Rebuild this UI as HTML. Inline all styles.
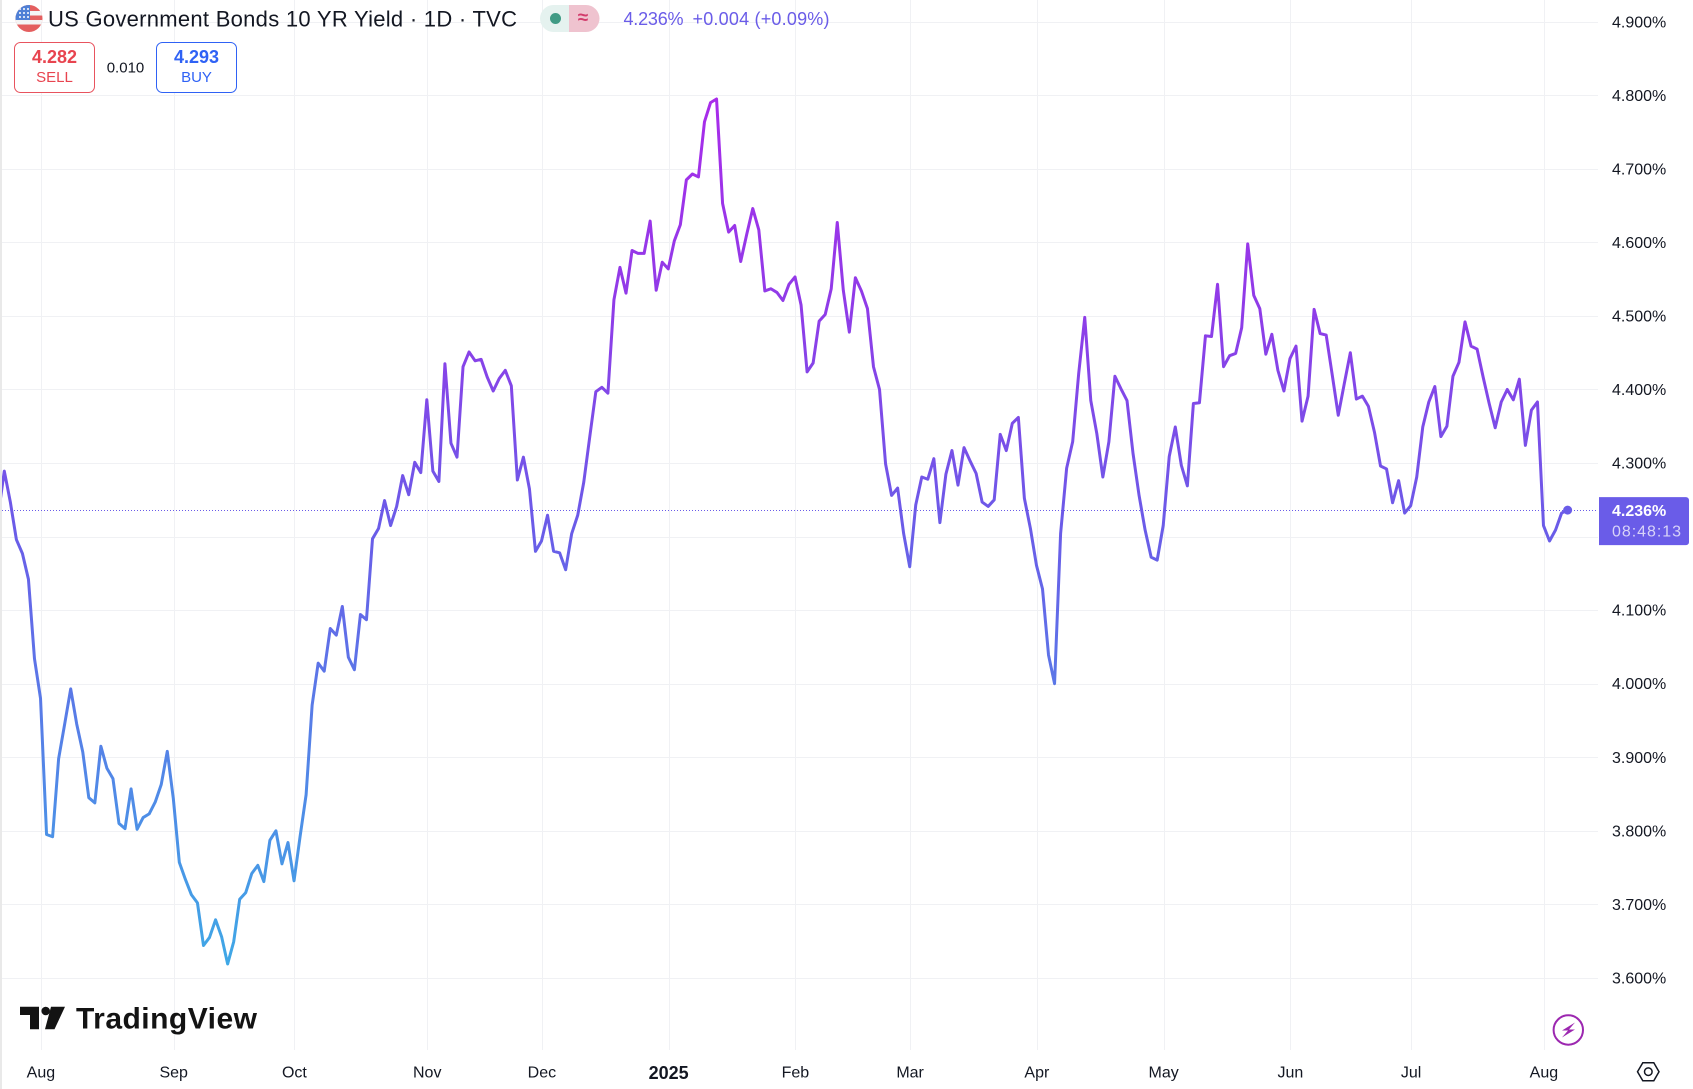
<!DOCTYPE html>
<html lang="en">
<head>
<meta charset="utf-8">
<title>US Government Bonds 10 YR Yield</title>
<style>
html,body{margin:0;padding:0;background:#fff;width:1693px;height:1089px;overflow:hidden}
svg{display:block;font-family:"Liberation Sans",sans-serif}
text{dominant-baseline:central}
</style>
</head>
<body>
<svg id="chart" width="1693" height="1089" viewBox="0 0 1693 1089" xmlns="http://www.w3.org/2000/svg">
  <defs>
    <linearGradient id="lineGrad" gradientUnits="userSpaceOnUse" x1="0" y1="95" x2="0" y2="965">
      <stop offset="0" stop-color="#a92bea"/>
      <stop offset="0.25" stop-color="#8f3ce8"/>
      <stop offset="0.5" stop-color="#6a5ce8"/>
      <stop offset="1" stop-color="#3fa8e6"/>
    </linearGradient>
    <clipPath id="plotClip"><rect x="2" y="0" width="1596" height="1050"/></clipPath>
    <clipPath id="flagClip"><circle cx="29" cy="18.5" r="13.5"/></clipPath>
  </defs>
  <rect width="1693" height="1089" fill="#ffffff"/>
  <rect x="0" y="0" width="2" height="1089" fill="#e9e9e9"/>
  <g id="grid"></g>
  <line id="lastLine" x1="2" x2="1597" stroke="#6a5ce8" stroke-width="1" stroke-dasharray="1 2"/>
  <polyline id="series" fill="none" stroke="url(#lineGrad)" stroke-width="3" stroke-linejoin="round" stroke-linecap="round" clip-path="url(#plotClip)"/>
  <circle id="lastDot" r="4.5" fill="#6a5ce8"/>
  <g id="yAxis" font-size="16" fill="#131722"></g>
  <g id="xAxis" font-size="16" fill="#131722" text-anchor="middle"></g>

  <g id="lastLabel">
    <path id="lastBox" fill="#6a5ce8"/>
    <text id="lastText" x="1612" font-size="16" font-weight="bold" fill="#ffffff"></text>
    <text id="countText" x="1612" font-size="16" fill="#d8d3f8" textLength="69">08:48:13</text>
  </g>

  <g clip-path="url(#flagClip)">
    <rect x="15" y="5" width="28" height="27" fill="#e45f5f"/>
    <rect x="15" y="11" width="28" height="4.5" fill="#f4f4f4"/>
    <rect x="15" y="20" width="28" height="4.5" fill="#f4f4f4"/>
    <rect x="15" y="5" width="15" height="15" fill="#4f80d6"/>
    <g fill="#ffffff">
      <circle cx="20" cy="9" r="1"/><circle cx="24" cy="9" r="1"/><circle cx="28" cy="9" r="1"/>
      <circle cx="20" cy="13" r="1"/><circle cx="24" cy="13" r="1"/><circle cx="28" cy="13" r="1"/>
      <circle cx="20" cy="17" r="1"/><circle cx="24" cy="17" r="1"/><circle cx="28" cy="17" r="1"/>
    </g>
  </g>
  <text x="48" y="19" font-size="22" fill="#131722" textLength="469">US Government Bonds 10 YR Yield · 1D · TVC</text>

  <g>
    <path d="M569 5H553.5a13.5 13.5 0 0 0 0 27H569Z" fill="#e5f2ef"/>
    <path d="M569 5H586a13.5 13.5 0 0 1 0 27H569Z" fill="#efc3cf"/>
    <circle cx="555.5" cy="18.5" r="5.5" fill="#409b85"/>
    <text x="583" y="18" font-size="19" font-weight="bold" fill="#d23c6c" text-anchor="middle">≈</text>
  </g>

  <text x="623.5" y="19" font-size="18" fill="#6a5ce8" textLength="60">4.236%</text>
  <text x="692.5" y="19" font-size="18" fill="#6a5ce8" textLength="137">+0.004 (+0.09%)</text>

  <g>
    <rect x="14.5" y="42.5" width="80" height="50" rx="6" fill="#ffffff" stroke="#e8535e" stroke-width="1"/>
    <text x="54.5" y="57" font-size="18" font-weight="bold" fill="#e8444f" text-anchor="middle">4.282</text>
    <text x="54.5" y="77.5" font-size="15" fill="#e8444f" text-anchor="middle">SELL</text>
  </g>
  <text x="125.5" y="68" font-size="15" fill="#131722" text-anchor="middle">0.010</text>
  <g>
    <rect x="156.5" y="42.5" width="80" height="50" rx="6" fill="#ffffff" stroke="#2f62f5" stroke-width="1"/>
    <text x="196.5" y="57" font-size="18" font-weight="bold" fill="#2f62f5" text-anchor="middle">4.293</text>
    <text x="196.5" y="77.5" font-size="15" fill="#2f62f5" text-anchor="middle">BUY</text>
  </g>

  <g fill="#131313">
    <path d="M20 1006.7H39V1029.3H30V1015H20Z"/>
    <circle cx="45.7" cy="1011" r="4.3"/>
    <path d="M51 1006.7H65L54.5 1029.3H45Z"/>
    <text x="76" y="1019" font-size="30" font-weight="bold" textLength="181">TradingView</text>
  </g>

  <g>
    <circle cx="1568.3" cy="1030" r="14.7" fill="#ffffff" stroke="#9c27b0" stroke-width="2"/>
    <path d="M1575 1022.5L1562 1030.5H1568L1562 1037.5L1575 1029.5H1569Z" fill="#9c27b0"/>
  </g>
  <g fill="none" stroke="#131722" stroke-width="1.5">
    <path d="M1637.5 1071.7L1642.8 1062.7H1653.8L1659 1071.7L1653.8 1080.7H1642.8Z"/>
    <circle cx="1648.3" cy="1071.7" r="3.8"/>
  </g>

  <script>
    // Reference values. The first point sits just off the left edge.
    var yieldValues = [
      4.230,4.289,4.247,4.196,4.177,4.142,4.034,3.980,3.795,3.792,
      3.898,3.945,3.993,3.945,3.907,3.845,3.838,3.915,3.885,3.871,
      3.810,3.803,3.857,3.802,3.818,3.823,3.839,3.863,3.908,3.844,
      3.757,3.734,3.713,3.702,3.644,3.655,3.679,3.656,3.619,3.649,
      3.707,3.716,3.742,3.753,3.731,3.787,3.800,3.755,3.784,3.732,
      3.792,3.849,3.971,4.028,4.017,4.075,4.066,4.105,4.036,4.019,
      4.094,4.087,4.197,4.211,4.249,4.215,4.241,4.283,4.257,4.301,
      4.287,4.386,4.289,4.275,4.435,4.327,4.308,4.431,4.451,4.439,
      4.441,4.417,4.398,4.415,4.426,4.405,4.277,4.308,4.265,4.180,
      4.194,4.229,4.180,4.178,4.155,4.204,4.229,4.274,4.336,4.397,
      4.403,4.395,4.522,4.566,4.531,4.589,4.585,4.585,4.629,4.535,
      4.573,4.564,4.602,4.624,4.685,4.693,4.689,4.764,4.790,4.795,
      4.653,4.614,4.623,4.574,4.611,4.646,4.617,4.534,4.537,4.532,
      4.521,4.543,4.553,4.515,4.424,4.436,4.493,4.502,4.537,4.627,
      4.535,4.478,4.552,4.534,4.510,4.431,4.400,4.299,4.256,4.266,
      4.204,4.159,4.243,4.281,4.278,4.306,4.219,4.285,4.317,4.270,
      4.321,4.303,4.286,4.247,4.241,4.250,4.339,4.317,4.354,4.362,
      4.252,4.211,4.161,4.129,4.039,4.000,4.204,4.293,4.329,4.422,
      4.498,4.385,4.340,4.281,4.329,4.418,4.401,4.385,4.313,4.256,
      4.209,4.172,4.168,4.215,4.309,4.349,4.297,4.269,4.381,4.382,
      4.473,4.472,4.543,4.431,4.446,4.449,4.484,4.598,4.528,4.510,
      4.448,4.475,4.426,4.398,4.442,4.459,4.357,4.391,4.509,4.476,
      4.474,4.420,4.365,4.408,4.450,4.387,4.391,4.377,4.342,4.296,
      4.292,4.246,4.276,4.232,4.242,4.281,4.349,4.383,4.404,4.336,
      4.350,4.418,4.437,4.492,4.459,4.455,4.417,4.381,4.348,4.383,
      4.400,4.386,4.414,4.324,4.372,4.383,4.215,4.194,4.209,4.232,
      4.236
    ];
    var priceTicks = [4.9,4.8,4.7,4.6,4.5,4.4,4.3,4.2,4.1,4.0,3.9,3.8,3.7,3.6];
    var monthLabels = ['Aug','Sep','Oct','Nov','Dec','2025','Feb','Mar','Apr','May','Jun','Jul','Aug'];
    var monthBars = [7,29,49,71,90,111,132,151,172,193,214,234,256];
    var boldMonths = ['2025'];

    var SVG_NS = 'http://www.w3.org/2000/svg';
    function xScale(bar){ return -1.736 + 6.036 * bar; }
    function yScale(v){ return 95.3 + (4.8 - v) * 735.5; }

    var grid = document.getElementById('grid');
    var yAxis = document.getElementById('yAxis');
    var xAxis = document.getElementById('xAxis');

    priceTicks.forEach(function(tick){
      var y = Math.round(yScale(tick)) + 0.5;
      var line = document.createElementNS(SVG_NS, 'line');
      
      
      line.setAttribute('x1', 2);
      line.setAttribute('x2', 1598);
      line.setAttribute('y1', y);
      line.setAttribute('y2', y);
      line.setAttribute('stroke', '#f0f1f4');
      line.setAttribute('stroke-width', 1);
      grid.appendChild(line);
      var label = document.createElementNS(SVG_NS, 'text');
      
      
      label.setAttribute('x', 1612);
      label.setAttribute('y', yScale(tick) + 1);
      label.textContent = tick.toFixed(3) + '%';
      yAxis.appendChild(label);
    });

    monthBars.forEach(function(bar, i){
      var x = Math.round(xScale(bar) + 0.4) + 0.5;
      var line = document.createElementNS(SVG_NS, 'line');
      
      
      line.setAttribute('x1', x);
      line.setAttribute('x2', x);
      line.setAttribute('y1', 0);
      line.setAttribute('y2', 1050);
      line.setAttribute('stroke', '#f0f1f4');
      line.setAttribute('stroke-width', 1);
      grid.appendChild(line);
      var label = document.createElementNS(SVG_NS, 'text');
      
      
      label.setAttribute('x', xScale(bar) + 0.4);
      label.setAttribute('y', 1073);
      if (boldMonths.indexOf(monthLabels[i]) >= 0) {
        label.setAttribute('font-weight', 'bold');
        label.setAttribute('font-size', '18');
      }
      label.textContent = monthLabels[i];
      xAxis.appendChild(label);
    });

    var pts = yieldValues.map(function(v, i){
      return xScale(i).toFixed(2) + ',' + yScale(v).toFixed(2);
    }).join(' ');
    document.getElementById('series').setAttribute('points', pts);

    var lastIndex = yieldValues.length - 1;
    var lastValue = yieldValues[lastIndex];
    var lastY = yScale(lastValue);
    var lastLine = document.getElementById('lastLine');
    lastLine.setAttribute('y1', Math.round(lastY) + 0.5);
    lastLine.setAttribute('y2', Math.round(lastY) + 0.5);
    var lastDot = document.getElementById('lastDot');
    lastDot.setAttribute('cx', xScale(lastIndex));
    lastDot.setAttribute('cy', lastY);
    var boxTop = lastY - 13;
    document.getElementById('lastBox').setAttribute('d',
      'M1599 ' + boxTop + 'H1686a3 3 0 0 1 3 3V' + (boxTop + 45) + 'a3 3 0 0 1 -3 3H1599Z');
    var lastText = document.getElementById('lastText');
    lastText.setAttribute('y', lastY + 1.2);
    lastText.textContent = lastValue.toFixed(3) + '%';
    document.getElementById('countText').setAttribute('y', lastY + 22);
  </script>
</svg>
</body>
</html>
